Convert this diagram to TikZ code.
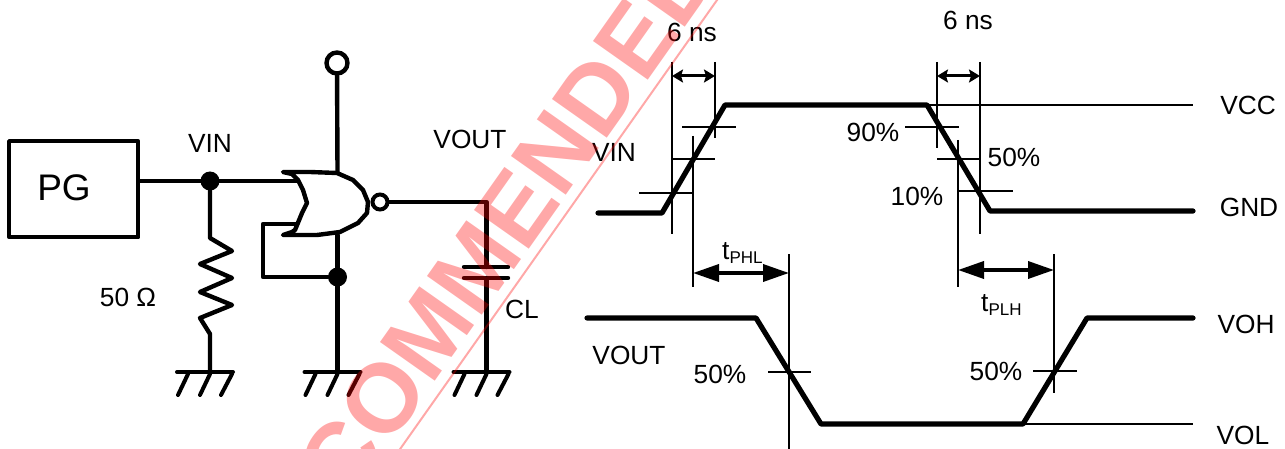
\documentclass[tikz,border=0pt]{standalone}
\usepackage{fontspec}
\setmainfont{Liberation Sans}
\usetikzlibrary{arrows.meta}
\tikzset{
 x=1pt,y=-1pt,
 lbl/.style={inner sep=0pt,font=\fontsize{26.3}{26}\selectfont},
 wire/.style={line width=4.4pt,line cap=round,line join=round},
 gndw/.style={line width=4pt,line cap=round},
 thin1/.style={line width=2.2pt},
 wave/.style={line width=5.2pt,line cap=round,line join=round},
 dot/.style={circle,fill=black,inner sep=0pt,minimum size=19pt},
 open/.style={circle,draw=black,fill=white,line width=4.4pt,inner sep=0pt,minimum size=20pt},
 smallarr/.style={line width=3pt,{Stealth[length=11pt,width=13pt,inset=2pt]}-{Stealth[length=11pt,width=13pt,inset=2pt]}},
 bigarr/.style={line width=3.6pt,{Triangle[length=26pt,width=17pt]}-{Triangle[length=26pt,width=17pt]}},
 pt/.style={inner sep=0pt,outer sep=0pt,minimum size=0pt},
}
\newcommand{\gnd}[2]{%
 \draw[gndw] (#1-33,#2) -- (#1+23,#2);
 \draw[gndw] (#1-22,#2+2) -- (#1-32,#2+23);
 \draw[gndw] (#1,#2+2) -- (#1-10,#2+23);
 \draw[gndw] (#1+22,#2+2) -- (#1+11,#2+23);
}
\begin{document}
\begin{tikzpicture}
\useasboundingbox (0,0) rectangle (1285,449);
% circuit
\node[draw,line width=4.4pt,minimum width=129pt,minimum height=96pt,inner sep=0pt,anchor=north west,line join=round] (pg) at (7,139) {};
\node[lbl,font=\fontsize{37}{37}\selectfont] (pgt) at (64,188) {PG};
\node[dot] (jin) at (210,181) {};
\coordinate (gin1) at (297,181);
\coordinate (gin2) at (297,224);
\draw[wire] (pg.east |- jin) -- (jin) -- (gin1);
\coordinate (rt) at (210,238);
\coordinate (rb) at (210,334);
\draw[wire] (jin) -- (rt) -- (232,251) -- (200,264) -- (232,278) -- (200,292) -- (232,305) -- (200,318) -- (210,334) -- (210,372);
\node[open,minimum size=21pt] (vt) at (337,63) {};
\node[dot] (jfb) at (337.5,277) {};
\draw[wire] (vt) -- (337.5,172);
\draw[wire] (337.5,235) -- (jfb) -- (337.5,372);
\draw[wire] (gin2) -- (263,224) -- (263,277) -- (jfb);
% gate
\draw[wire,fill=white] (283,172) -- (310,172) -- (337,173) -- (353,180) -- (363,190) -- (368,202) -- (367,213) -- (358,223) -- (340,232) -- (317,235) -- (283,235)
 -- (292,232) -- (295,230) -- (302,213) -- (307,203) -- (303,190) -- (298,180) -- (292,174) -- cycle;
\node[open,line width=4pt,minimum size=15pt] (bub) at (380,202) {};
\coordinate (ct) at (486.5,267);
\coordinate (cb) at (486.5,278);
\draw[wire] (bub) -- (486.5,202) -- (ct);
\draw[wire] (cb) -- (486.5,372);
\draw[wire] (464,267) -- (508,267);
\draw[wire] (464,278) -- (508,278);
\gnd{210}{372}
\gnd{337.5}{372}
\gnd{486.5}{372}
\node[lbl,anchor=base] (t1) at (210,153) {VIN};
\node[lbl,anchor=base] (t2) at (470,149) {VOUT};
\node[lbl,anchor=base] (t3) at (128,306) {50 Ω};
\node[lbl,anchor=base] (t4) at (522,318) {CL};
\node[lbl,anchor=base] (t5) at (614,162) {VIN};
\node[lbl,anchor=base] (t6) at (629,364) {VOUT};
% waveforms
\draw[wave] (598,213) -- (662,213) -- (725,105) -- (927,105) -- (990,211) -- (1193,211);
\draw[wave] (587,318) -- (756,318) -- (821,424) -- (1023,424) -- (1087,318) -- (1193,318);
\draw[thin1] (927,105) -- (1193,105);
\draw[thin1] (1023,424) -- (1193,424);
% rising ticks
\draw[thin1] (672,62) -- (672,234);
\draw[thin1] (715,62) -- (715,138);
\draw[thin1] (693,136) -- (693,287);
\draw[thin1] (789,254) -- (789,449);
\draw[thin1] (682,127) -- (736,127);
\draw[thin1] (672,159) -- (715,159);
\draw[thin1] (639,193) -- (693,193);
\draw[thin1] (768,372) -- (811,372);
% falling ticks
\draw[thin1] (937,62) -- (937,148);
\draw[thin1] (980,62) -- (980,234);
\draw[thin1] (958,140) -- (958,287);
\draw[thin1] (1054,254) -- (1054,393);
\draw[thin1] (905,127) -- (959,127);
\draw[thin1] (937,159) -- (981,159);
\draw[thin1] (958,191) -- (1013,191);
\draw[thin1] (1033,371) -- (1077,371);
% arrows
\coordinate (a1) at (672,76); \coordinate (a2) at (715,76);
\draw[smallarr] (a1) -- (a2);
\coordinate (a3) at (937,76); \coordinate (a4) at (980,76);
\draw[smallarr] (a3) -- (a4);
\coordinate (a5) at (693,273); \coordinate (a6) at (789,273);
\draw[bigarr] (a5) -- (a6);
\coordinate (a7) at (958,270); \coordinate (a8) at (1054,270);
\draw[bigarr] (a7) -- (a8);
% labels
\node[lbl,anchor=base] (l1) at (692,42) {6 ns};
\node[lbl,anchor=base] (l2) at (968,30) {6 ns};
\node[lbl,anchor=base west] (l3) at (722,259) {t\fontsize{17}{17}\selectfont\raisebox{-4pt}{PHL}};
\node[lbl,anchor=base west] (l4) at (981,311) {t\fontsize{17}{17}\selectfont\raisebox{-4pt}{PLH}};
\node[lbl,anchor=base] (l5) at (873,142) {90\%};
\node[lbl,anchor=base] (l6) at (1014,167) {50\%};
\node[lbl,anchor=base] (l7) at (917,206) {10\%};
\node[lbl,anchor=base] (l8) at (720,383) {50\%};
\node[lbl,anchor=base] (l9) at (996,380) {50\%};
\node[lbl,anchor=base] (r1) at (1248,115) {VCC};
\node[lbl,anchor=base] (r2) at (1249,217) {GND};
\node[lbl,anchor=base] (r3) at (1246,333) {VOH};
\node[lbl,anchor=base] (r4) at (1243,444) {VOL};
% watermark on top
\begin{scope}
\clip (0,0) rectangle (1285,449);
\node[pt,rotate=54.8,text=red,text opacity=0.34,anchor=base west,font=\bfseries\fontsize{97.5}{97.5}\selectfont] (wmtext) at (269.5,617) {RECOMMENDED};
\draw[red,opacity=0.34,line width=2pt] (732.6,-22) -- (384.6,471);
\end{scope}
\end{tikzpicture}
\end{document}
